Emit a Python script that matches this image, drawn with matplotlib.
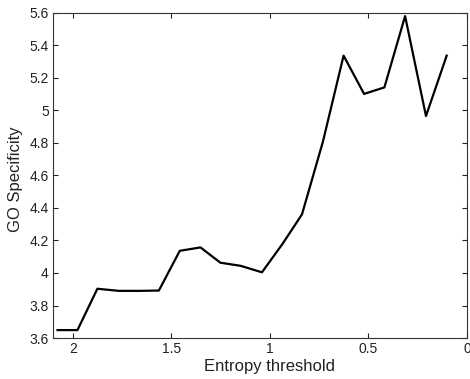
import matplotlib
matplotlib.use('Agg')
import matplotlib.pyplot as plt

params = {'font.family': ['Liberation Sans', 'DejaVu Sans'],
          'font.size': 10,
          'axes.linewidth': 0.8,
          'xtick.direction': 'in',
          'ytick.direction': 'in',
          'xtick.top': True,
          'ytick.right': True,
          'xtick.major.size': 3.5,
          'ytick.major.size': 3.5,
          'xtick.labelsize': 10,
          'ytick.labelsize': 10,
          }
plt.rcParams.update(params)

###  DATA  ###

entropy = [2.077, 1.976, 1.875, 1.766, 1.66, 1.563, 1.457, 1.352, 1.251,
           1.149, 1.04, 0.935, 0.837, 0.731, 0.626, 0.522, 0.419, 0.314,
           0.208, 0.103]
go_spec = [3.649, 3.649, 3.903, 3.89, 3.89, 3.892, 4.136, 4.157, 4.063,
           4.044, 4.004, 4.18, 4.36, 4.806, 5.335, 5.10, 5.14, 5.578,
           4.964, 5.335]

xticks = [2, 1.5, 1, 0.5, 0]
yticks = [3.6, 3.8, 4, 4.2, 4.4, 4.6, 4.8, 5, 5.2, 5.4, 5.6]

###  PLOT  ###

fig = plt.figure(figsize=(4.7, 3.79), dpi=100)
ax = fig.add_axes([0.1128, 0.108, 0.8808, 0.859])
ax.plot(entropy, go_spec, color='k', lw=1.6)

ax.set_xlim(2.1, 0)
ax.set_ylim(3.6, 5.6)
ax.set_xticks(xticks)
ax.set_xticklabels(['2', '1.5', '1', '0.5', '0'])
ax.set_yticks(yticks)
ax.set_yticklabels(['3.6', '3.8', '4', '4.2', '4.4', '4.6', '4.8', '5',
                    '5.2', '5.4', '5.6'])
ax.tick_params(pad=3, colors='#222222', labelcolor='#222222')
for s in ax.spines.values():
    s.set_color('#333333')

ax.set_xlabel('Entropy threshold', fontsize=12, color='#222222')
ax.set_ylabel('GO Specificity', fontsize=12, color='#222222')
ax.xaxis.set_label_coords(0.524, -0.065)
ax.yaxis.set_label_coords(-0.072, 0.488)

fig.savefig('out.png', dpi=100)
